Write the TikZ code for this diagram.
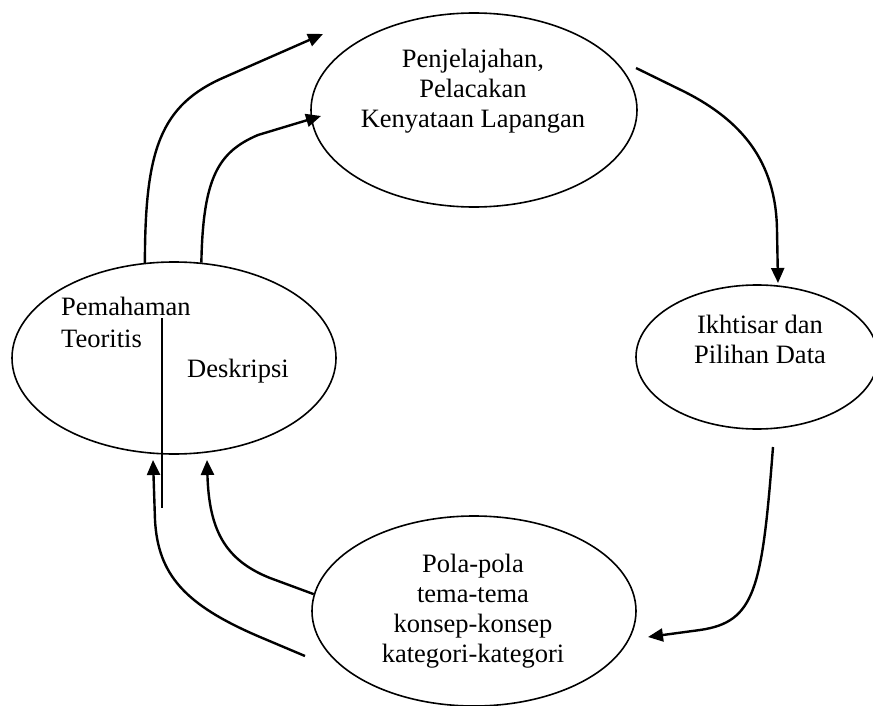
\documentclass[tikz,border=0pt]{standalone}
\usepackage{fontspec}
\setmainfont{Liberation Serif}
\usetikzlibrary{arrows.meta,shapes.geometric}

\begin{document}
\begin{tikzpicture}[x=1pt,y=-1pt,
  oval/.style={ellipse, draw, line width=1.6pt, inner sep=0pt},
  txt/.style={anchor=base, inner sep=0pt, font=\fontsize{26.5}{30}\selectfont},
  flow/.style={line width=2.4pt, -{Triangle[length=15pt,width=13pt]}}
]
\useasboundingbox (0,0) rectangle (873,706);

% the four stages
\node[oval, minimum width=326pt, minimum height=194pt] (explore) at (474,110) {};
\node[oval, minimum width=242pt, minimum height=144pt] (summary) at (757,357) {};
\node[oval, minimum width=324pt, minimum height=190pt] (patterns) at (474,611) {};
\node[oval, minimum width=324pt, minimum height=192pt] (theory) at (174,358) {};

% labels
\node[txt] (e1) at (473,68) {Penjelajahan,};
\node[txt] (e2) at (473,98) {Pelacakan};
\node[txt] (e3) at (473,128) {Kenyataan Lapangan};

\node[txt] (s1) at (760,333) {Ikhtisar dan};
\node[txt] (s2) at (760,363) {Pilihan Data};

\node[txt] (p1) at (473,572) {Pola-pola};
\node[txt] (p2) at (473,602) {tema-tema};
\node[txt] (p3) at (473,632) {konsep-konsep};
\node[txt] (p4) at (473,662) {kategori-kategori};

\node[txt, anchor=base west] (t1) at (61,315) {Pemahaman};
\node[txt, anchor=base west] (t2) at (61,347) {Teoritis};
\node[txt, anchor=base west] (t3) at (187,377) {Deskripsi};

% divider inside the theory oval
\coordinate (divtop) at (162,318);
\coordinate (divbot) at (162,508);
\draw[line width=2pt] (divtop) -- (divbot);

% connector ends
\coordinate (a1end) at (323,34);
\coordinate (a2end) at (321,116);
\coordinate (a3start) at (636,68);
\coordinate (a3end) at (778,283);
\coordinate (a4start) at (773,447);
\coordinate (a4end) at (648,637);
\coordinate (a5end) at (207,460);
\coordinate (a6start) at (305,656);
\coordinate (a6end) at (153,460);

% cycle arrows
\draw[flow] (theory.107) .. controls (145,150) and (160,105) .. (225,77) -- (a1end);
\draw[flow] (theory.74) .. controls (203,178) and (218,152) .. (258,135) -- (a2end);
\draw[flow] (a3start) -- (685,92) .. controls (740,120) and (776,160) .. (777,230) -- (a3end);
\draw[flow] (a4start) .. controls (762,590) and (755,622) .. (700,630) -- (a4end);
\draw[flow] (patterns.174) -- (270,578) .. controls (225,560) and (209,530) .. (a5end);
\draw[flow] (a6start) -- (260,637) .. controls (185,605) and (158,575) .. (155,520) -- (a6end);
\end{tikzpicture}
\end{document}
